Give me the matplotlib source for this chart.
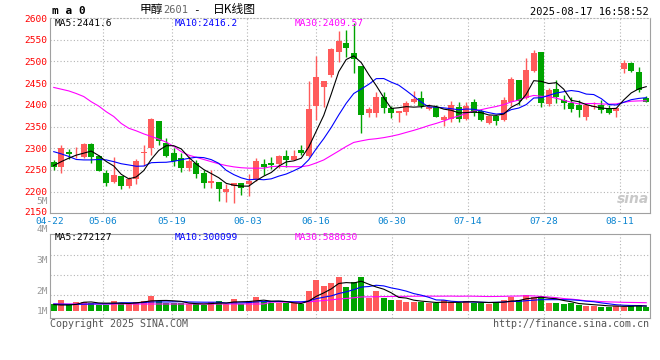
import numpy as np
import pandas as pd
import matplotlib
matplotlib.use('Agg')
import matplotlib.pyplot as plt
from matplotlib.transforms import ScaledTranslation

plt.rcParams['font.family'] = ['DejaVu Sans Mono', 'Noto Sans CJK SC']

# daily candles 04-22 .. 08-15
opens = [2268, 2257, 2291, 2288, 2280, 2310, 2282, 2243, 2222, 2236,
         2214, 2229, 2289, 2300, 2363, 2313, 2288, 2277, 2255, 2265,
         2242, 2219, 2221, 2200, 2214, 2219, 2218, 2227, 2264, 2267,
         2264, 2282, 2273, 2296, 2281, 2397, 2440, 2469, 2522, 2542,
         2520, 2490, 2382, 2382, 2419, 2392, 2382, 2384, 2407, 2415,
         2390, 2396, 2364, 2367, 2394, 2367, 2407, 2386, 2359, 2374,
         2365, 2407, 2457, 2415, 2478, 2522, 2402, 2436, 2411, 2403,
         2400, 2371, 2394, 2400, 2392, 2386, 2483, 2497, 2476, 2416]
highs = [2273, 2308, 2299, 2303, 2311, 2311, 2284, 2250, 2280, 2237,
         2234, 2274, 2307, 2370, 2363, 2323, 2300, 2288, 2282, 2273,
         2250, 2250, 2222, 2218, 2220, 2219, 2240, 2277, 2274, 2279,
         2284, 2296, 2296, 2307, 2455, 2512, 2455, 2530, 2570, 2572,
         2588, 2490, 2396, 2430, 2430, 2397, 2385, 2409, 2432, 2432,
         2402, 2400, 2377, 2409, 2407, 2407, 2413, 2390, 2377, 2377,
         2417, 2465, 2457, 2507, 2526, 2522, 2438, 2457, 2423, 2417,
         2411, 2403, 2406, 2411, 2400, 2396, 2503, 2499, 2488, 2421]
lows = [2249, 2242, 2276, 2277, 2277, 2265, 2247, 2214, 2219, 2205,
        2208, 2218, 2258, 2284, 2307, 2280, 2258, 2246, 2247, 2231,
        2209, 2209, 2179, 2176, 2173, 2192, 2190, 2225, 2238, 2253,
        2254, 2257, 2273, 2284, 2280, 2365, 2396, 2465, 2499, 2509,
        2474, 2334, 2373, 2373, 2382, 2369, 2360, 2377, 2403, 2392,
        2387, 2372, 2351, 2361, 2361, 2365, 2374, 2363, 2356, 2353,
        2363, 2397, 2400, 2413, 2476, 2394, 2398, 2405, 2390, 2384,
        2373, 2366, 2390, 2380, 2378, 2373, 2473, 2476, 2430, 2406]
closes = [2256, 2300, 2287, 2290, 2310, 2280, 2248, 2219, 2238, 2214,
          2228, 2270, 2292, 2367, 2317, 2283, 2270, 2255, 2270, 2240,
          2219, 2224, 2207, 2205, 2219, 2208, 2224, 2270, 2257, 2261,
          2281, 2273, 2282, 2288, 2390, 2463, 2455, 2528, 2546, 2530,
          2505, 2377, 2390, 2419, 2392, 2380, 2385, 2403, 2413, 2397,
          2394, 2373, 2373, 2400, 2367, 2397, 2380, 2365, 2374, 2363,
          2411, 2459, 2409, 2480, 2519, 2403, 2434, 2419, 2405, 2390,
          2388, 2400, 2398, 2387, 2382, 2392, 2497, 2479, 2434, 2407]
# volume, millions
volumes = [0.35, 0.55, 0.35, 0.47, 0.47, 0.42, 0.30, 0.30, 0.50, 0.42,
           0.35, 0.47, 0.52, 0.77, 0.50, 0.38, 0.38, 0.38, 0.35, 0.35,
           0.30, 0.47, 0.52, 0.35, 0.62, 0.35, 0.52, 0.70, 0.52, 0.38,
           0.38, 0.38, 0.38, 0.35, 1.00, 1.55, 1.25, 1.38, 1.70, 1.22,
           1.45, 1.70, 0.63, 1.00, 0.67, 0.55, 0.55, 0.47, 0.47, 0.43,
           0.38, 0.38, 0.55, 0.43, 0.42, 0.50, 0.42, 0.42, 0.35, 0.47,
           0.55, 0.68, 0.55, 0.80, 0.68, 0.75, 0.42, 0.42, 0.35, 0.38,
           0.30, 0.27, 0.27, 0.22, 0.22, 0.27, 0.18, 0.30, 0.30, 0.18]

# moving averages before enough history is in the window
ma5_head = [2260, 2269, 2277, 2284]
ma10_head = [2292, 2287, 2281, 2274, 2273, 2273, 2274, 2273, 2269]
ma30_head = [2440, 2436, 2432, 2426, 2419, 2407, 2397, 2384, 2373, 2357,
             2346, 2340, 2333, 2327, 2321, 2314, 2304, 2292, 2284, 2279,
             2274, 2269, 2264, 2260, 2257, 2255, 2254, 2254, 2254]
vma5_head = [0.32, 0.30, 0.30, 0.33]
vma10_head = [0.35, 0.34, 0.33, 0.33, 0.34, 0.35, 0.36, 0.36, 0.37]
vma30_head = [0.35] * 29

date_labels = ['04-22', '05-06', '05-19', '06-03', '06-16', '06-30', '07-14', '07-28', '08-11']
date_idx = [0, 7, 16, 26, 35, 45, 55, 65, 75]
price_ticks = [2150, 2200, 2250, 2300, 2350, 2400, 2450, 2500, 2550, 2600]

RED = '#ff5b5b'
GREEN = '#00a400'
GRID = '#b4b4b4'
EDGE = '#a0a0a0'


def with_head(series, n, head):
    m = pd.Series(series).rolling(n).mean().to_numpy()
    m[:len(head)] = head
    return m


o = np.array(opens, float)
c = np.array(closes, float)
x = np.arange(len(c))
cols = np.where(c >= o, RED, GREEN)

W, H = 660, 360
fig = plt.figure(figsize=(6.6, 3.6), dpi=100)


def px_axes(l, t, r, b):
    return fig.add_axes([l / W, 1 - b / H, (r - l) / W, (b - t) / H])


def ftext(px, py, s, **kw):
    kw.setdefault('va', 'center')
    return fig.text(px / W, 1 - py / H, s, **kw)


ax = px_axes(50, 18, 650, 213.3)
vax = px_axes(50, 234.3, 650, 318.3)
gx = [-0.5 + i * 80 / 79 for i in date_idx]

# price panel
ax.set_xlim(-0.5, 79.5)
ax.set_ylim(2150, 2600)
for p in price_ticks[1:-1]:
    ax.axhline(p, color=GRID, lw=0.8, ls=(0, (1, 2)), zorder=0)
for g in gx[1:]:
    ax.axvline(g, color=GRID, lw=0.8, ls=(0, (1, 2)), zorder=0)
ax.vlines(x, lows, highs, colors=cols, lw=1, zorder=2)
ax.bar(x, np.maximum(np.abs(c - o), 1.3), bottom=np.minimum(o, c), width=0.78,
       color=cols, linewidth=0, zorder=3)
ax.plot(x, with_head(closes, 30, ma30_head), color='#ff00ff', lw=0.8, zorder=4)
ax.plot(x, with_head(closes, 10, ma10_head), color='#0000ff', lw=0.8, zorder=4)
ax.plot(x, with_head(closes, 5, ma5_head), color='black', lw=0.8, zorder=5)

ax.set_yticks(price_ticks)
ax.set_yticklabels([str(p) for p in price_ticks], color='#ff0000', fontsize=6.8)
ax.set_xticks(gx)
ax.set_xticklabels(date_labels, color='#0a84d0', fontsize=6.8)
ax.tick_params(length=0, pad=2)
ax.tick_params(axis='x', pad=3)
lab0 = ax.get_yticklabels()[0]
lab0.set_transform(lab0.get_transform() + ScaledTranslation(0, 1.2 / 72, fig.dpi_scale_trans))
for s in ['left', 'right', 'bottom']:
    ax.spines[s].set_color(EDGE)
ax.spines['top'].set_color(GRID)
ax.spines['top'].set_linestyle((0, (1, 2)))

# volume panel
vax.set_xlim(-0.5, 79.5)
vax.set_ylim(-0.365, 3.835)
for v in [0.785, 1.785, 2.785]:
    vax.axhline(v, color=GRID, lw=0.8, ls=(0, (1, 2)), zorder=0)
for g in gx[1:]:
    vax.axvline(g, color=GRID, lw=0.8, ls=(0, (1, 2)), zorder=0)
vax.bar(x, volumes, width=0.78, color=cols, linewidth=0, zorder=2)
vax.plot(x, with_head(volumes, 30, vma30_head), color='#ff00ff', lw=0.8, zorder=3)
vax.plot(x, with_head(volumes, 10, vma10_head), color='#0000ff', lw=0.8, zorder=4)
vax.plot(x, with_head(volumes, 5, vma5_head), color='black', lw=0.8, zorder=5)
vax.set_xticks([])
vax.set_yticks([])
for s in vax.spines.values():
    s.set_color(EDGE)

# volume scale labels
for lab, py in [('5M', 201.5), ('4M', 230), ('3M', 260.7), ('2M', 291), ('1M', 311)]:
    ftext(48, py, lab, ha='right', color='#999999', fontsize=6.8)

# header
ftext(52, 11, 'm a 0', ha='left', fontsize=8, weight='bold')
ftext(140, 9.5, '甲醇', ha='left', fontsize=8.5, family=['Noto Sans CJK SC'])
ftext(163, 10, '2601', ha='left', fontsize=7.5, color='#666666')
ftext(196, 10, '-', ha='center', fontsize=8)
ftext(213, 9.5, '日K线图', ha='left', fontsize=8.5, family=['Noto Sans CJK SC'])
ftext(649, 12, '2025-08-17 16:58:52', ha='right', fontsize=7.5)

ftext(55, 23.5, 'MA5:2441.6', ha='left', fontsize=6.8, color='black')
ftext(175, 23.5, 'MA10:2416.2', ha='left', fontsize=6.8, color='#0000ff')
ftext(295, 23.5, 'MA30:2409.57', ha='left', fontsize=6.8, color='#ff00ff')
ftext(55, 238, 'MA5:272127', ha='left', fontsize=6.8, color='black')
ftext(175, 238, 'MA10:300099', ha='left', fontsize=6.8, color='#0000ff')
ftext(295, 238, 'MA30:588630', ha='left', fontsize=6.8, color='#ff00ff')

ftext(50, 324, 'Copyright 2025 SINA.COM', ha='left', fontsize=7.2, color='#555555')
ftext(649, 324, 'http://finance.sina.com.cn', ha='right', fontsize=7.2, color='#555555')
ftext(649, 199, 'sina', ha='right', fontsize=10, color='#c8c8c8', style='italic',
      weight='bold', family=['DejaVu Sans'])

fig.savefig('out.png', dpi=100)
